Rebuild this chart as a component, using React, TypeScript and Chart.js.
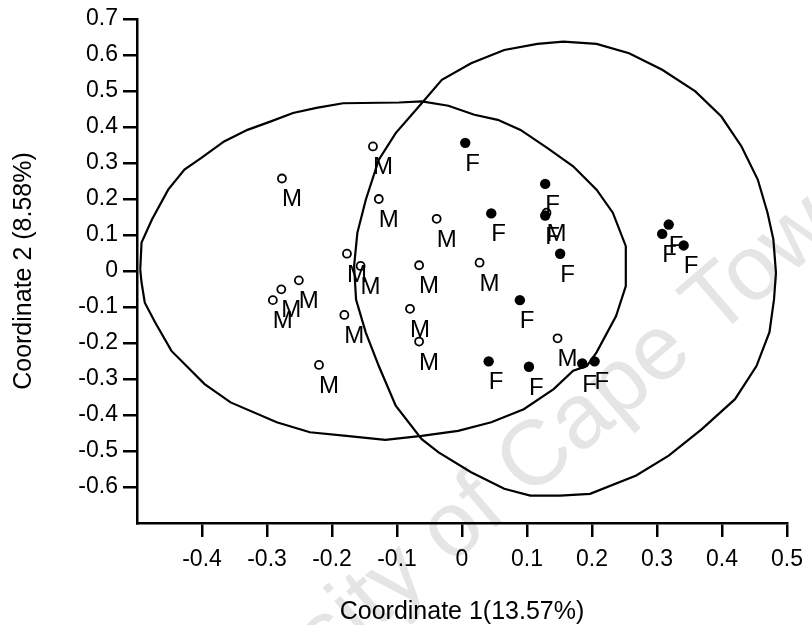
import React, { useEffect, useRef } from 'react';
import { Chart, registerables } from 'chart.js';

Chart.register(...registerables);

// Male (open circles, label "M")
const maleX = [-0.277, -0.137, -0.128, -0.039, -0.177, -0.156, -0.066, 0.027, -0.080, -0.066, -0.181, -0.220, 0.147, -0.291, -0.278, -0.251, 0.130];
const maleY = [0.257, 0.346, 0.200, 0.145, 0.048, 0.014, 0.016, 0.023, -0.105, -0.196, -0.122, -0.261, -0.187, -0.081, -0.051, -0.026, 0.162];

// Female (filled circles, label "F")
const femaleX = [0.005, 0.128, 0.045, 0.128, 0.151, 0.089, 0.041, 0.103, 0.185, 0.204, 0.318, 0.308, 0.341];
const femaleY = [0.356, 0.242, 0.160, 0.154, 0.048, -0.081, -0.251, -0.266, -0.257, -0.251, 0.129, 0.103, 0.071];

// Traced outlines of the two group ellipses
const maleOutlineX = [-0.495, -0.493, -0.477, -0.452, -0.427, -0.401, -0.366, -0.330, -0.295, -0.260, -0.224, -0.183, -0.097, -0.062, -0.021, 0.019, 0.055, 0.090, 0.131, 0.171, 0.207, 0.232, 0.252, 0.252, 0.237, 0.207, 0.192, 0.171, 0.141, 0.095, 0.045, -0.006, -0.062, -0.118, -0.178, -0.234, -0.285, -0.356, -0.396, -0.447, -0.472, -0.488, -0.493, -0.495];
const maleOutlineY = [0.004, 0.079, 0.143, 0.226, 0.282, 0.314, 0.360, 0.392, 0.415, 0.439, 0.453, 0.466, 0.468, 0.471, 0.459, 0.434, 0.420, 0.392, 0.342, 0.291, 0.226, 0.162, 0.069, -0.042, -0.125, -0.226, -0.264, -0.277, -0.328, -0.384, -0.420, -0.444, -0.458, -0.469, -0.458, -0.448, -0.420, -0.365, -0.314, -0.222, -0.143, -0.088, -0.032, 0.004];

const femaleOutlineX = [-0.062, -0.031, 0.014, 0.065, 0.116, 0.156, 0.207, 0.257, 0.308, 0.359, 0.399, 0.430, 0.455, 0.470, 0.479, 0.483, 0.480, 0.473, 0.453, 0.420, 0.369, 0.318, 0.268, 0.197, 0.151, 0.105, 0.065, 0.014, -0.036, -0.062, -0.102, -0.128, -0.148, -0.163, -0.166, -0.161, -0.148, -0.128, -0.102, -0.062];
const femaleOutlineY = [0.466, 0.531, 0.577, 0.614, 0.631, 0.637, 0.631, 0.605, 0.559, 0.499, 0.429, 0.346, 0.254, 0.162, 0.088, -0.005, -0.079, -0.170, -0.264, -0.356, -0.439, -0.513, -0.568, -0.619, -0.624, -0.624, -0.605, -0.559, -0.504, -0.467, -0.374, -0.264, -0.171, -0.079, 0.014, 0.106, 0.198, 0.309, 0.383, 0.466];

// Axis ranges / hidden ticks
const xRange = [-0.5, 0.5];
const yRange = [-0.7, 0.7];
const hiddenX = [-0.5];
const hiddenY = [-0.7];

const FAMILY = '"Liberation Sans", Arial, Helvetica, sans-serif';

const pairs = (xs: number[], ys: number[]) => xs.map((x, i) => ({ x, y: ys[i] }));
const isHidden = (v: number, list: number[]) => list.some((h) => Math.abs(v - h) < 1e-9);
const fmt = (v: number) => String(Math.round(v * 10) / 10);

const watermarkPlugin = {
  id: 'watermark',
  beforeDraw(chart: any) {
    const ctx = chart.ctx;
    ctx.save();
    ctx.fillStyle = '#ffffff';
    ctx.fillRect(0, 0, chart.width, chart.height);
    ctx.translate(108, 826);
    ctx.rotate((-40.6 * Math.PI) / 180);
    ctx.font = `92px ${FAMILY}`;
    ctx.fillStyle = '#e5e5e5';
    ctx.textAlign = 'left';
    ctx.textBaseline = 'middle';
    ctx.fillText('University of Cape Town', 0, 0);
    ctx.restore();
  },
};

const labelPlugin = {
  id: 'pointLetters',
  afterDatasetsDraw(chart: any) {
    const { ctx, scales } = chart;
    const xs = scales.x;
    const ys = scales.y;
    ctx.save();
    ctx.font = `24px ${FAMILY}`;
    ctx.fillStyle = '#000';
    ctx.textAlign = 'left';
    ctx.textBaseline = 'alphabetic';
    maleX.forEach((v, i) => {
      ctx.fillText('M', xs.getPixelForValue(v), ys.getPixelForValue(maleY[i]) + 28);
    });
    femaleX.forEach((v, i) => {
      ctx.fillText('F', xs.getPixelForValue(v), ys.getPixelForValue(femaleY[i]) + 28);
    });
    ctx.restore();
  },
};

export default function App() {
  const ref = useRef<HTMLCanvasElement>(null);

  useEffect(() => {
    const canvas = ref.current;
    if (!canvas) return;
    const tickFont = { family: FAMILY, size: 23 };
    const titleFont = { family: FAMILY, size: 25, lineHeight: 1 };
    const chart = new Chart(canvas, {
      type: 'scatter',
      data: {
        datasets: [
          {
            label: 'M ellipse',
            data: pairs(maleOutlineX, maleOutlineY),
            showLine: true,
            borderColor: '#000',
            borderWidth: 2.2,
            pointRadius: 0,
            fill: false,
            tension: 0,
          },
          {
            label: 'F ellipse',
            data: pairs(femaleOutlineX, femaleOutlineY),
            showLine: true,
            borderColor: '#000',
            borderWidth: 2.2,
            pointRadius: 0,
            fill: false,
            tension: 0,
          },
          {
            label: 'M',
            data: pairs(maleX, maleY),
            pointStyle: 'circle',
            pointRadius: 4,
            borderWidth: 1.8,
            borderColor: '#000',
            backgroundColor: 'rgba(0,0,0,0)',
          },
          {
            label: 'F',
            data: pairs(femaleX, femaleY),
            pointStyle: 'circle',
            pointRadius: 5.2,
            borderWidth: 0,
            borderColor: '#000',
            backgroundColor: '#000',
          },
        ],
      },
      options: {
        responsive: false,
        animation: false,
        devicePixelRatio: 1,
        layout: { padding: { top: 19, right: 19, left: 0, bottom: 0 } },
        plugins: { legend: { display: false }, tooltip: { enabled: false } },
        scales: {
          x: {
            type: 'linear',
            min: xRange[0],
            max: xRange[1],
            ticks: {
              stepSize: 0.1,
              autoSkip: false,
              maxRotation: 0,
              padding: 9,
              color: '#000',
              font: tickFont,
              callback: (v: any) => (isHidden(Number(v), hiddenX) ? '' : fmt(Number(v))),
            },
            grid: {
              display: true,
              drawOnChartArea: false,
              drawTicks: true,
              tickLength: 14,
              lineWidth: 2.5,
              color: (c: any) => (c.tick && isHidden(c.tick.value, hiddenX) ? 'rgba(0,0,0,0)' : '#000'),
            },
            border: { display: true, color: '#000', width: 2.5 },
            title: {
              display: true,
              text: 'Coordinate 1(13.57%)',
              color: '#000',
              font: titleFont,
              padding: { top: 0, bottom: 0 },
            },
            afterFit: (s: any) => {
              s.height = 102;
            },
          },
          y: {
            type: 'linear',
            min: yRange[0],
            max: yRange[1],
            ticks: {
              stepSize: 0.1,
              autoSkip: false,
              padding: 5,
              color: '#000',
              font: tickFont,
              callback: (v: any) => (isHidden(Number(v), hiddenY) ? '' : fmt(Number(v))),
            },
            grid: {
              display: true,
              drawOnChartArea: false,
              drawTicks: true,
              tickLength: 14,
              lineWidth: 2.5,
              color: (c: any) => (c.tick && isHidden(c.tick.value, hiddenY) ? 'rgba(0,0,0,0)' : '#000'),
            },
            border: { display: true, color: '#000', width: 2.5 },
            title: {
              display: true,
              text: 'Coordinate 2 (8.58%)',
              color: '#000',
              font: titleFont,
              padding: { top: 12, bottom: 0 },
            },
            afterFit: (s: any) => {
              s.width = 137;
            },
          },
        },
      },
      plugins: [watermarkPlugin, labelPlugin],
    } as any);
    return () => chart.destroy();
  }, []);

  return (
    <div style={{ position: 'fixed', left: 0, top: 0, width: 812, height: 625, background: '#fff' }}>
      <canvas ref={ref} width={812} height={625} style={{ display: 'block' }} />
    </div>
  );
}
